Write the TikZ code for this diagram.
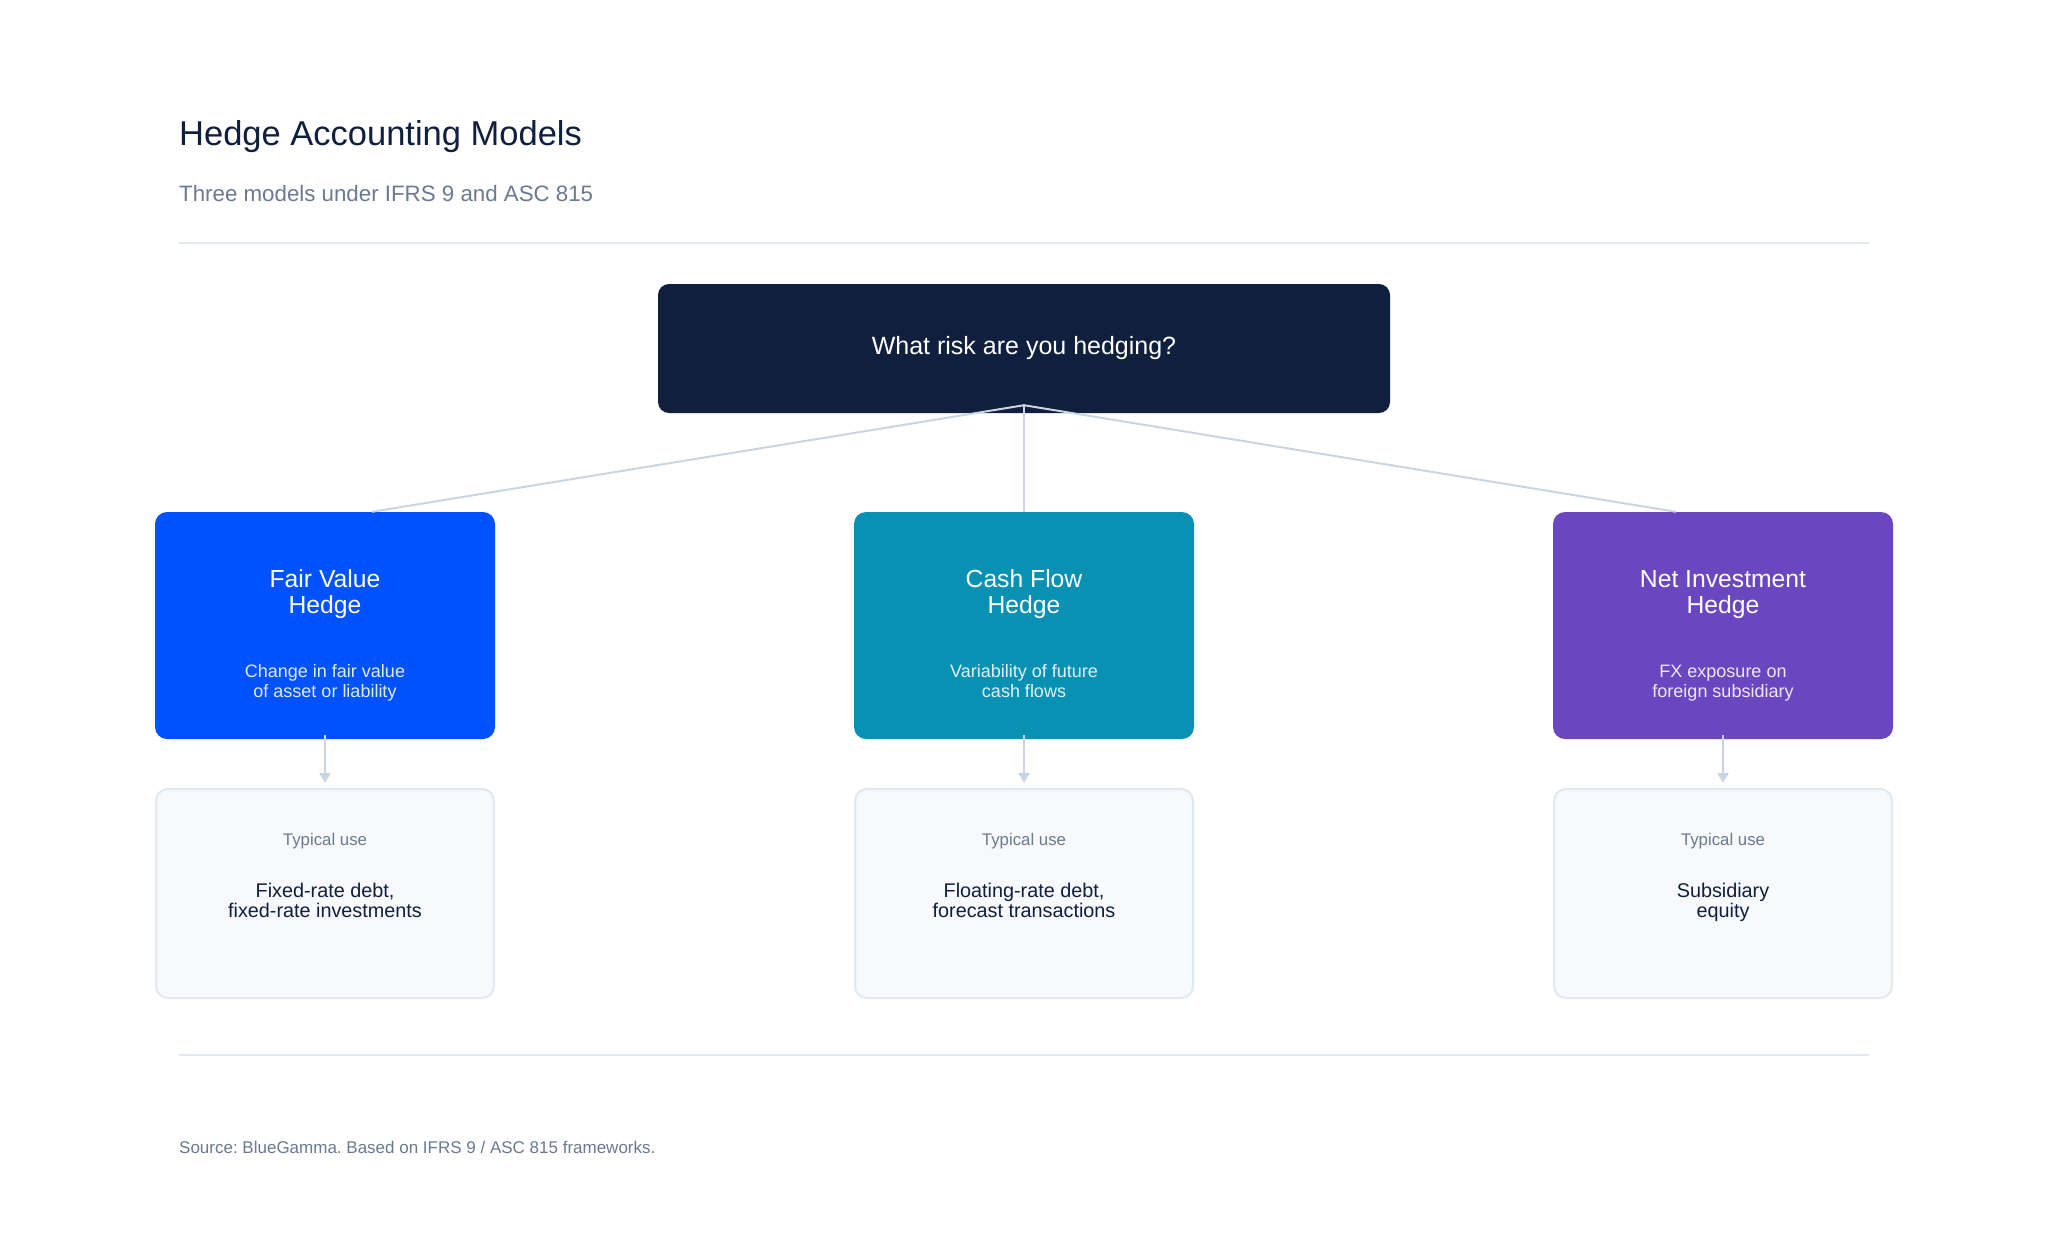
\documentclass[tikz,border=0pt]{standalone}
\usepackage{fontspec}
\setmainfont{Liberation Sans}
\usetikzlibrary{arrows.meta}
\definecolor{navy}{HTML}{0F1F3D}
\definecolor{subgray}{HTML}{6B7A90}
\definecolor{rulec}{HTML}{E2E8F0}
\definecolor{linkc}{HTML}{CBD5E1}
\definecolor{fvblue}{HTML}{0052FF}
\definecolor{cfteal}{HTML}{0891B2}
\definecolor{nipurple}{HTML}{6B46C1}
\definecolor{usebg}{HTML}{F7F9FC}
\definecolor{useline}{HTML}{E2E8F0}
\newcommand{\fsz}[2]{\fontsize{#1pt}{#2pt}\selectfont}
\frenchspacing
\begin{document}
\begin{tikzpicture}[x=1pt,y=-1pt,
  rootbox/.style={rectangle, rounded corners=11pt, fill=navy, text=white,
    minimum width=732pt, minimum height=129pt, inner sep=0pt, font=\fsz{25}{30}},
  card/.style={rectangle, rounded corners=12pt, minimum width=340pt,
    minimum height=227pt, inner sep=0pt},
  usecard/.style={rectangle, rounded corners=12pt, fill=usebg, draw=useline,
    line width=2pt, minimum width=338pt, minimum height=209pt, inner sep=0pt},
  cardtitle/.style={anchor=base, align=center, text=white, inner sep=0pt, font=\fsz{24.7}{26}},
  carddesc/.style={anchor=base, align=center, text=white, text opacity=0.88, inner sep=0pt, font=\fsz{18}{20}},
  uselabel/.style={anchor=base, text=subgray, inner sep=0pt, font=\fsz{16.8}{19}},
  usetext/.style={anchor=base, align=center, text=navy, inner sep=0pt, font=\fsz{19.8}{20}},
  link/.style={draw=linkc, line width=2pt},
  arr/.style={link, -{Triangle[length=10pt,width=11pt]}, shorten >=5pt},
  hrule/.style={draw=rulec, line width=1.6pt}]
\useasboundingbox[fill=white] (0,0) rectangle (2048,1235);

% header
\node[anchor=base west, inner sep=0pt, text=navy, font=\fsz{34.5}{40}] (title) at (179,145) {Hedge Accounting Models};
\node[anchor=base west, inner sep=0pt, text=subgray, font=\fsz{22.3}{26}] (subtitle) at (179,201) {Three models under IFRS 9 and ASC 815};
\coordinate (r1a) at (179,243);
\coordinate (r1b) at (1869,243);
\path[hrule] (r1a) -- (r1b);

% root
\node[rootbox] (root) at (1024,348.5) {What risk are you hedging?};

% cards
\node[card, fill=fvblue] (fv) at (325,625.5) {};
\node[card, fill=cfteal] (cf) at (1024,625.5) {};
\node[card, fill=nipurple] (ni) at (1723,625.5) {};

\node[cardtitle] (fvt) at (325,613) {Fair Value\\Hedge};
\node[cardtitle] (cft) at (1024,613) {Cash Flow\\Hedge};
\node[cardtitle] (nit) at (1723,613) {Net Investment\\Hedge};

\node[carddesc] (fvd) at (325,697) {Change in fair value\\of asset or liability};
\node[carddesc] (cfd) at (1024,697) {Variability of future\\cash flows};
\node[carddesc] (nid) at (1723,697) {FX exposure on\\foreign subsidiary};

% connectors from root
\coordinate (rj) at ([yshift=8pt]root.south);
\coordinate (fvin) at ([xshift=47pt]fv.north);
\coordinate (niin) at ([xshift=-47pt]ni.north);
\path[link] (rj) -- (fvin);
\path[link] (rj) -- (cf.north);
\path[link] (rj) -- (niin);

% typical use cards
\node[usecard] (fvu) at (325,893.5) {};
\node[usecard] (cfu) at (1024,893.5) {};
\node[usecard] (niu) at (1723,893.5) {};

\node[uselabel] (fvul) at (325,845) {Typical use};
\node[uselabel] (cful) at (1024,845) {Typical use};
\node[uselabel] (niul) at (1723,845) {Typical use};

\node[usetext] (fvut) at (325,917) {Fixed-rate debt,\\fixed-rate investments};
\node[usetext] (cfut) at (1024,917) {Floating-rate debt,\\forecast transactions};
\node[usetext] (niut) at (1723,917) {Subsidiary\\equity};

% arrows
\draw[arr] ([yshift=4pt]fv.south) -- (fvu.north);
\draw[arr] ([yshift=4pt]cf.south) -- (cfu.north);
\draw[arr] ([yshift=4pt]ni.south) -- (niu.north);

% footer
\coordinate (r2a) at (179,1055);
\coordinate (r2b) at (1869,1055);
\path[hrule] (r2a) -- (r2b);
\node[anchor=base west, inner sep=0pt, text=subgray, font=\fsz{17}{20}] (source) at (179,1153) {Source: BlueGamma. Based on IFRS 9 / ASC 815 frameworks.};
\end{tikzpicture}
\end{document}
